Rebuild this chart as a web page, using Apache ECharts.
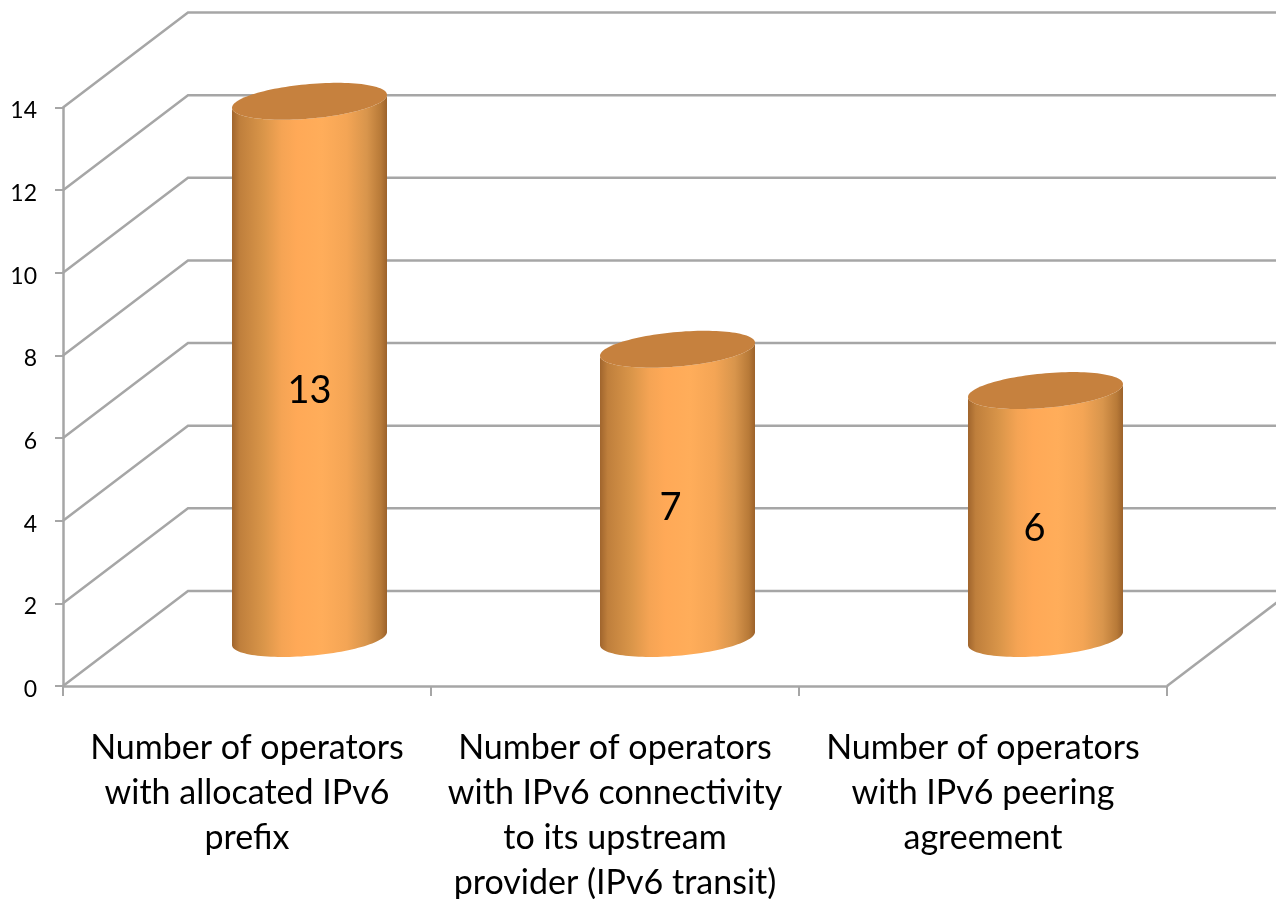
<!DOCTYPE html>
<html>
<head>
<meta charset="utf-8">
<title>IPv6 operators</title>
<script src="https://cdn.jsdelivr.net/npm/echarts@6/dist/echarts.min.js"></script>
<style>
  html, body { margin: 0; padding: 0; background: #fff; }
  #main { width: 1276px; height: 899px; }
</style>
</head>
<body>
<div id="main"></div>
<script>
// chart data
const categories = [
  'Number of operators\nwith allocated IPv6\nprefix',
  'Number of operators\nwith IPv6 connectivity\nto its upstream\nprovider (IPv6 transit)',
  'Number of operators\nwith IPv6 peering\nagreement'
];
const operatorCounts = [13, 7, 6];
const tickValues = [0, 2, 4, 6, 8, 10, 12, 14];

// look of the fake 3d box
const depthX = 125;
const depthY = -95;
const radiusX = 77.5;
const tilt = 6.5;
const radiusY = 17.3;
const gridColor = '#a6a6a6';
const labelFont = 'Lato, "Open Sans", sans-serif';
// value labels do not sit dead centre in the original
const labelNudge = [[0, 21], [-7, 14], [-11, 14]];

// point on the tilted ellipse, t in radians
function ellipsePoint(cx, cy, t) {
  return [cx + radiusX * Math.cos(t), cy - tilt * Math.cos(t) + radiusY * Math.sin(t)];
}

function renderWall(params, api) {
  let v = api.value(1);
  let front = api.coord([0, v]);
  let x0 = params.coordSys.x;
  let x1 = x0 + params.coordSys.width;
  let y = front[1];
  let children = [{
    type: 'polyline',
    shape: { points: [[x0, y], [x0 + depthX, y + depthY], [x1 + depthX, y + depthY]] },
    style: { stroke: gridColor, lineWidth: 2.5, fill: null }
  }];
  if (v === 0) {
    children.push({
      type: 'line',
      shape: { x1: x1, y1: y, x2: x1 + depthX, y2: y + depthY },
      style: { stroke: gridColor, lineWidth: 2.5 }
    });
  }
  return { type: 'group', children: children };
}

function renderCylinder(params, api) {
  let i = api.value(0);
  let v = api.value(1);
  let base = api.coord([i, 0]);
  let top = api.coord([i, v]);
  let cx = base[0] + depthX / 2;
  let by = base[1] + depthY / 2;
  let ty = top[1] + depthY / 2;

  let bodyPts = [];
  let capPts = [];
  for (let k = 0; k <= 60; k++) {
    // lower half of the bottom ellipse, right to left
    bodyPts.push(ellipsePoint(cx, by, Math.PI * k / 60));
  }
  for (let k = 0; k <= 60; k++) {
    // back along the top ellipse
    bodyPts.push(ellipsePoint(cx, ty, Math.PI - Math.PI * k / 60));
  }
  for (let k = 0; k < 120; k++) {
    capPts.push(ellipsePoint(cx, ty, Math.PI * 2 * k / 120));
  }

  let nudge = labelNudge[i];
  return {
    type: 'group',
    children: [
      {
        type: 'polygon',
        shape: { points: bodyPts },
        style: {
          fill: new echarts.graphic.LinearGradient(0, 0, 1, 0, [
            { offset: 0, color: '#a0652d' },
            { offset: 0.05, color: '#bf7f3c' },
            { offset: 0.2, color: '#d99549' },
            { offset: 0.32, color: '#f5a454' },
            { offset: 0.42, color: '#ffa957' },
            { offset: 0.58, color: '#ffad5a' },
            { offset: 0.74, color: '#f4a555' },
            { offset: 0.87, color: '#d8954c' },
            { offset: 0.96, color: '#b87a38' },
            { offset: 1, color: '#9c622b' }
          ])
        }
      },
      {
        type: 'polygon',
        shape: { points: capPts },
        style: { fill: '#c6813e' }
      },
      {
        type: 'text',
        x: cx + nudge[0],
        y: (by + ty) / 2 + nudge[1],
        style: {
          text: String(v),
          fill: '#000',
          font: '38px ' + labelFont,
          align: 'center',
          verticalAlign: 'middle'
        }
      }
    ]
  };
}

var myChart = echarts.init(document.getElementById('main'));

var option = {
  animation: false,
  backgroundColor: '#fff',
  grid: { left: 63, right: 109, top: 107.5, bottom: 213, outerBoundsMode: 'none' },
  xAxis: {
    type: 'category',
    data: categories,
    axisLine: { lineStyle: { color: gridColor, width: 2.5 } },
    axisTick: { show: true, alignWithLabel: false, length: 10, lineStyle: { color: gridColor, width: 2 } },
    axisLabel: {
      interval: 0,
      margin: 40,
      color: '#000',
      fontFamily: 'Lato, "Open Sans", sans-serif',
      fontSize: 34,
      lineHeight: 45,
      align: 'center'
    },
    splitLine: { show: false }
  },
  yAxis: {
    type: 'value',
    min: 0,
    max: 14,
    interval: 2,
    axisLine: { show: true, lineStyle: { color: gridColor, width: 2.5 } },
    axisTick: { show: true, length: 8, lineStyle: { color: gridColor, width: 2 } },
    axisLabel: {
      margin: 26,
      formatter: '{n|{value}}',
      rich: {
        // pushes the numbers slightly under their ticks like the original
        n: { color: '#000', fontFamily: 'Lato, "Open Sans", sans-serif', fontSize: 23, padding: [7, 0, 0, 0] }
      }
    },
    splitLine: { show: false }
  },
  series: [
    {
      type: 'custom',
      renderItem: renderWall,
      silent: true,
      z: 1,
      encode: { x: 0, y: 1 },
      data: tickValues.map(function (v) { return [0, v]; })
    },
    {
      type: 'custom',
      renderItem: renderCylinder,
      z: 3,
      encode: { x: 0, y: 1 },
      data: operatorCounts.map(function (v, i) { return [i, v]; })
    }
  ]
};

myChart.setOption(option);
</script>
</body>
</html>
